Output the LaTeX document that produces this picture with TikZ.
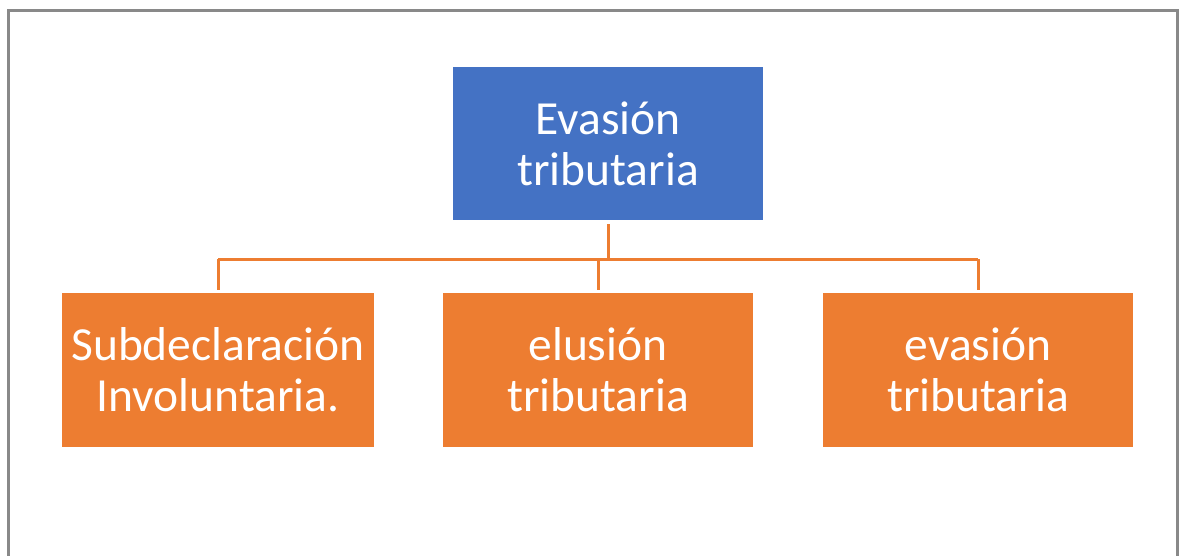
\documentclass[tikz,border=0pt]{standalone}
\usepackage{fontspec}
\setmainfont{Carlito}
\definecolor{boxblue}{RGB}{68,114,196}
\definecolor{boxorange}{RGB}{237,125,49}
\definecolor{framegray}{RGB}{137,137,137}
\begin{document}
\begin{tikzpicture}[x=1pt,y=-1pt,
  box/.style={rectangle, inner sep=0pt, minimum width=310pt, minimum height=154pt,
    text width=306pt, align=center, text=white,
    font=\fontsize{47.5}{51}\selectfont},
  conn/.style={draw=boxorange, line width=3pt}]
\useasboundingbox (0,0) rectangle (1185,556);
\draw[framegray, line width=3pt] (8,560) -- (8,11) -- (1177,11) -- (1177,560);
\node[box, fill=boxblue, minimum height=153pt] (top) at (608,143.5) {Evasión\\tributaria};
\node[box, fill=boxorange, minimum width=312pt, text width=310pt] (c1) at (218,370) {Subdeclaración\\Involuntaria.};
\node[box, fill=boxorange] (c2) at (598,370) {elusión\\tributaria};
\node[box, fill=boxorange] (c3) at (978,370) {evasión\\tributaria};
\coordinate (hub) at (608,259);
\draw[conn] ([yshift=-4pt]top.south) -- (top.south |- hub);
\draw[conn] (c1.north |- hub) -- (c3.north |- hub);
\draw[conn] ([yshift=3pt]c1.north) -- (c1.north |- hub);
\draw[conn] ([yshift=3pt]c2.north) -- (c2.north |- hub);
\draw[conn] ([yshift=3pt]c3.north) -- (c3.north |- hub);
\end{tikzpicture}
\end{document}
